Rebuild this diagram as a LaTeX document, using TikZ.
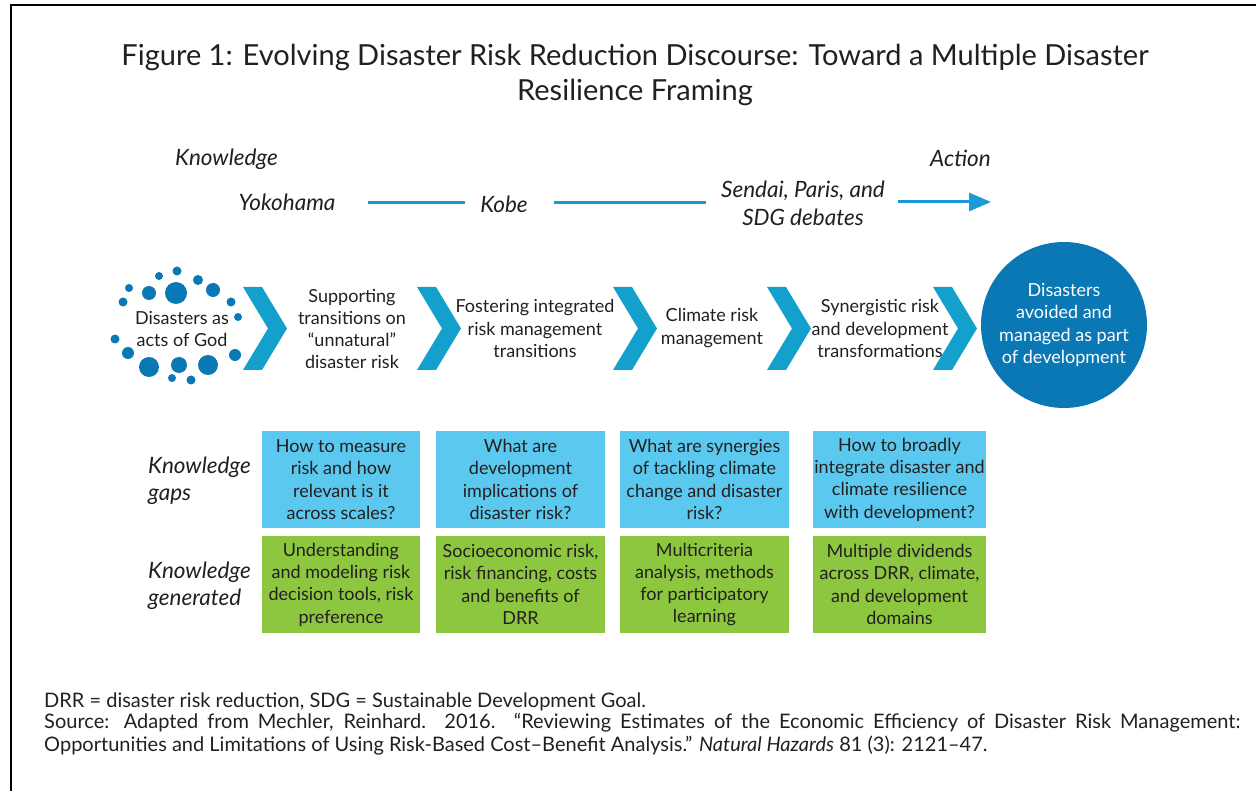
\documentclass[tikz,border=0pt]{standalone}
\usepackage{fontspec}
\setmainfont{Lato}
\usetikzlibrary{arrows.meta}
\definecolor{txt}{HTML}{231F20}
\definecolor{lineblue}{HTML}{1A9AD6}
\definecolor{chev}{HTML}{14A0CC}
\definecolor{dotblue}{HTML}{0A78B4}
\definecolor{gapblue}{HTML}{5BC9EF}
\definecolor{gengreen}{HTML}{8DC63F}
\begin{document}
\begin{tikzpicture}[x=1pt,y=-1pt,
  every node/.style={text=txt, inner sep=0pt},
  body/.style={align=center, font=\fontsize{18}{22.3}\selectfont},
  ital/.style={font=\fontsize{22.5}{28}\selectfont\itshape},
  gapbox/.style={body, fill=gapblue, minimum height=97pt},
  genbox/.style={body, fill=gengreen, minimum height=97pt},
  tline/.style={draw=lineblue, line width=3pt},
  chevshape/.style={fill=chev},
]
\useasboundingbox (0,0) rectangle (1256,791);
\draw[line width=2.5pt] (11,791) -- (11,5) -- (1256,5);

% title
\node[align=center, font=\fontsize{29}{35}\selectfont] (title) at (635,75)
  {Figure 1: Evolving Disaster Risk Reduction Discourse: Toward a Multiple Disaster\\Resilience Framing};

% knowledge / action timeline
\node[ital, anchor=west] (know) at (175,159) {Knowledge};
\node[ital, anchor=west] (act) at (930,158) {Action};
\node[ital] (yoko) at (287,202) {Yokohama};
\node[ital] (kobe) at (504,204) {Kobe};
\node[ital, align=center] (sendai) at (803,203) {Sendai, Paris, and\\SDG debates};
\coordinate (l1a) at (368,203);
\coordinate (l1b) at (465,203);
\coordinate (l2a) at (554,203);
\coordinate (l2b) at (706,203);
\coordinate (l3a) at (898,202);
\coordinate (l3b) at (991,202);
\draw[tline] (l1a) -- (l1b);
\draw[tline] (l2a) -- (l2b);
\draw[tline, -{Triangle[length=22pt,width=18pt]}] (l3a) -- (l3b);

% dots
\foreach \x/\y/\r in {177/271/4.5, 159/276/4, 198/280/5, 129/288/4, 149/293/7,
  176/293/11, 213/290/7, 123/302/4.5, 231/302/4.5, 238/317/4, 115/339/4.5,
  128/353/6, 235/355/6, 149/367/10, 179/365/8, 208/365/10, 172/378/4, 191/380/4.5}
  \fill[dotblue] (\x,\y) circle (\r pt);

% chevrons
\foreach \c in {243,417,613,767,933}
  \fill[chevshape] (\c,287) -- (\c+19,287) -- (\c+44,328.5) -- (\c+19,370) -- (\c,370) -- (\c+25,328.5) -- cycle;

% stage texts
\node[body] (dis) at (182,329) {Disasters as\\acts of God};
\node[body] (sup) at (352,329) {Supporting\\transitions on\\“unnatural”\\disaster risk};
\node[body] (fos) at (535,328.5) {Fostering integrated\\risk management\\transitions};
\node[body] (cli) at (712,328) {Climate risk\\management};
\node[body] (syn) at (880,328.5) {Synergistic risk\\and development\\transformations};
\node[body, circle, fill=dotblue, minimum size=166pt, text=white] (goal) at (1064,325)
  {Disasters\\avoided and\\managed as part\\of development};

% row labels
\node[ital, align=left, anchor=west, font=\fontsize{22.5}{27}\selectfont\itshape] (kgap) at (148,480.5) {Knowledge\\gaps};
\node[ital, align=left, anchor=west, font=\fontsize{22.5}{27}\selectfont\itshape] (kgen) at (148,586) {Knowledge\\generated};

% gap boxes
\node[gapbox, minimum width=158pt] (g1) at (341,479.5) {How to measure\\risk and how\\relevant is it\\across scales?};
\node[gapbox, minimum width=169pt] (g2) at (520.5,479.5) {What are\\development\\implications of\\disaster risk?};
\node[gapbox, minimum width=169pt] (g3) at (704.5,479.5) {What are synergies\\of tackling climate\\change and disaster\\risk?};
\node[gapbox, minimum width=173pt] (g4) at (899.5,479.5) {How to broadly\\integrate disaster and\\climate resilience\\with development?};

% generated boxes
\node[genbox, minimum width=158pt] (k1) at (341,584.5) {Understanding\\and modeling risk\\decision tools, risk\\preference};
\node[genbox, minimum width=169pt] (k2) at (520.5,584.5) {Socioeconomic risk,\\risk financing, costs\\and benefits of\\DRR};
\node[genbox, minimum width=169pt] (k3) at (704.5,584.5) {Multicriteria\\analysis, methods\\for participatory\\learning};
\node[genbox, minimum width=173pt] (k4) at (899.5,584.5) {Multiple dividends\\across DRR, climate,\\and development\\domains};

% footnotes
\node[anchor=west, font=\fontsize{20}{22.5}\selectfont] (fn1) at (44,702) {DRR = disaster risk reduction, SDG = Sustainable Development Goal.};
\node[anchor=north west, text width=1196pt, align=justify, font=\fontsize{20}{23}\selectfont] (fn2) at (44,713)
  {Source: Adapted from Mechler, Reinhard. 2016. “Reviewing Estimates of the Economic Efficiency of Disaster Risk Management:\linebreak Opportunities and Limitations of Using Risk-Based Cost–Benefit Analysis.” \textit{Natural Hazards} 81 (3): 2121–47.};
\end{tikzpicture}
\end{document}
